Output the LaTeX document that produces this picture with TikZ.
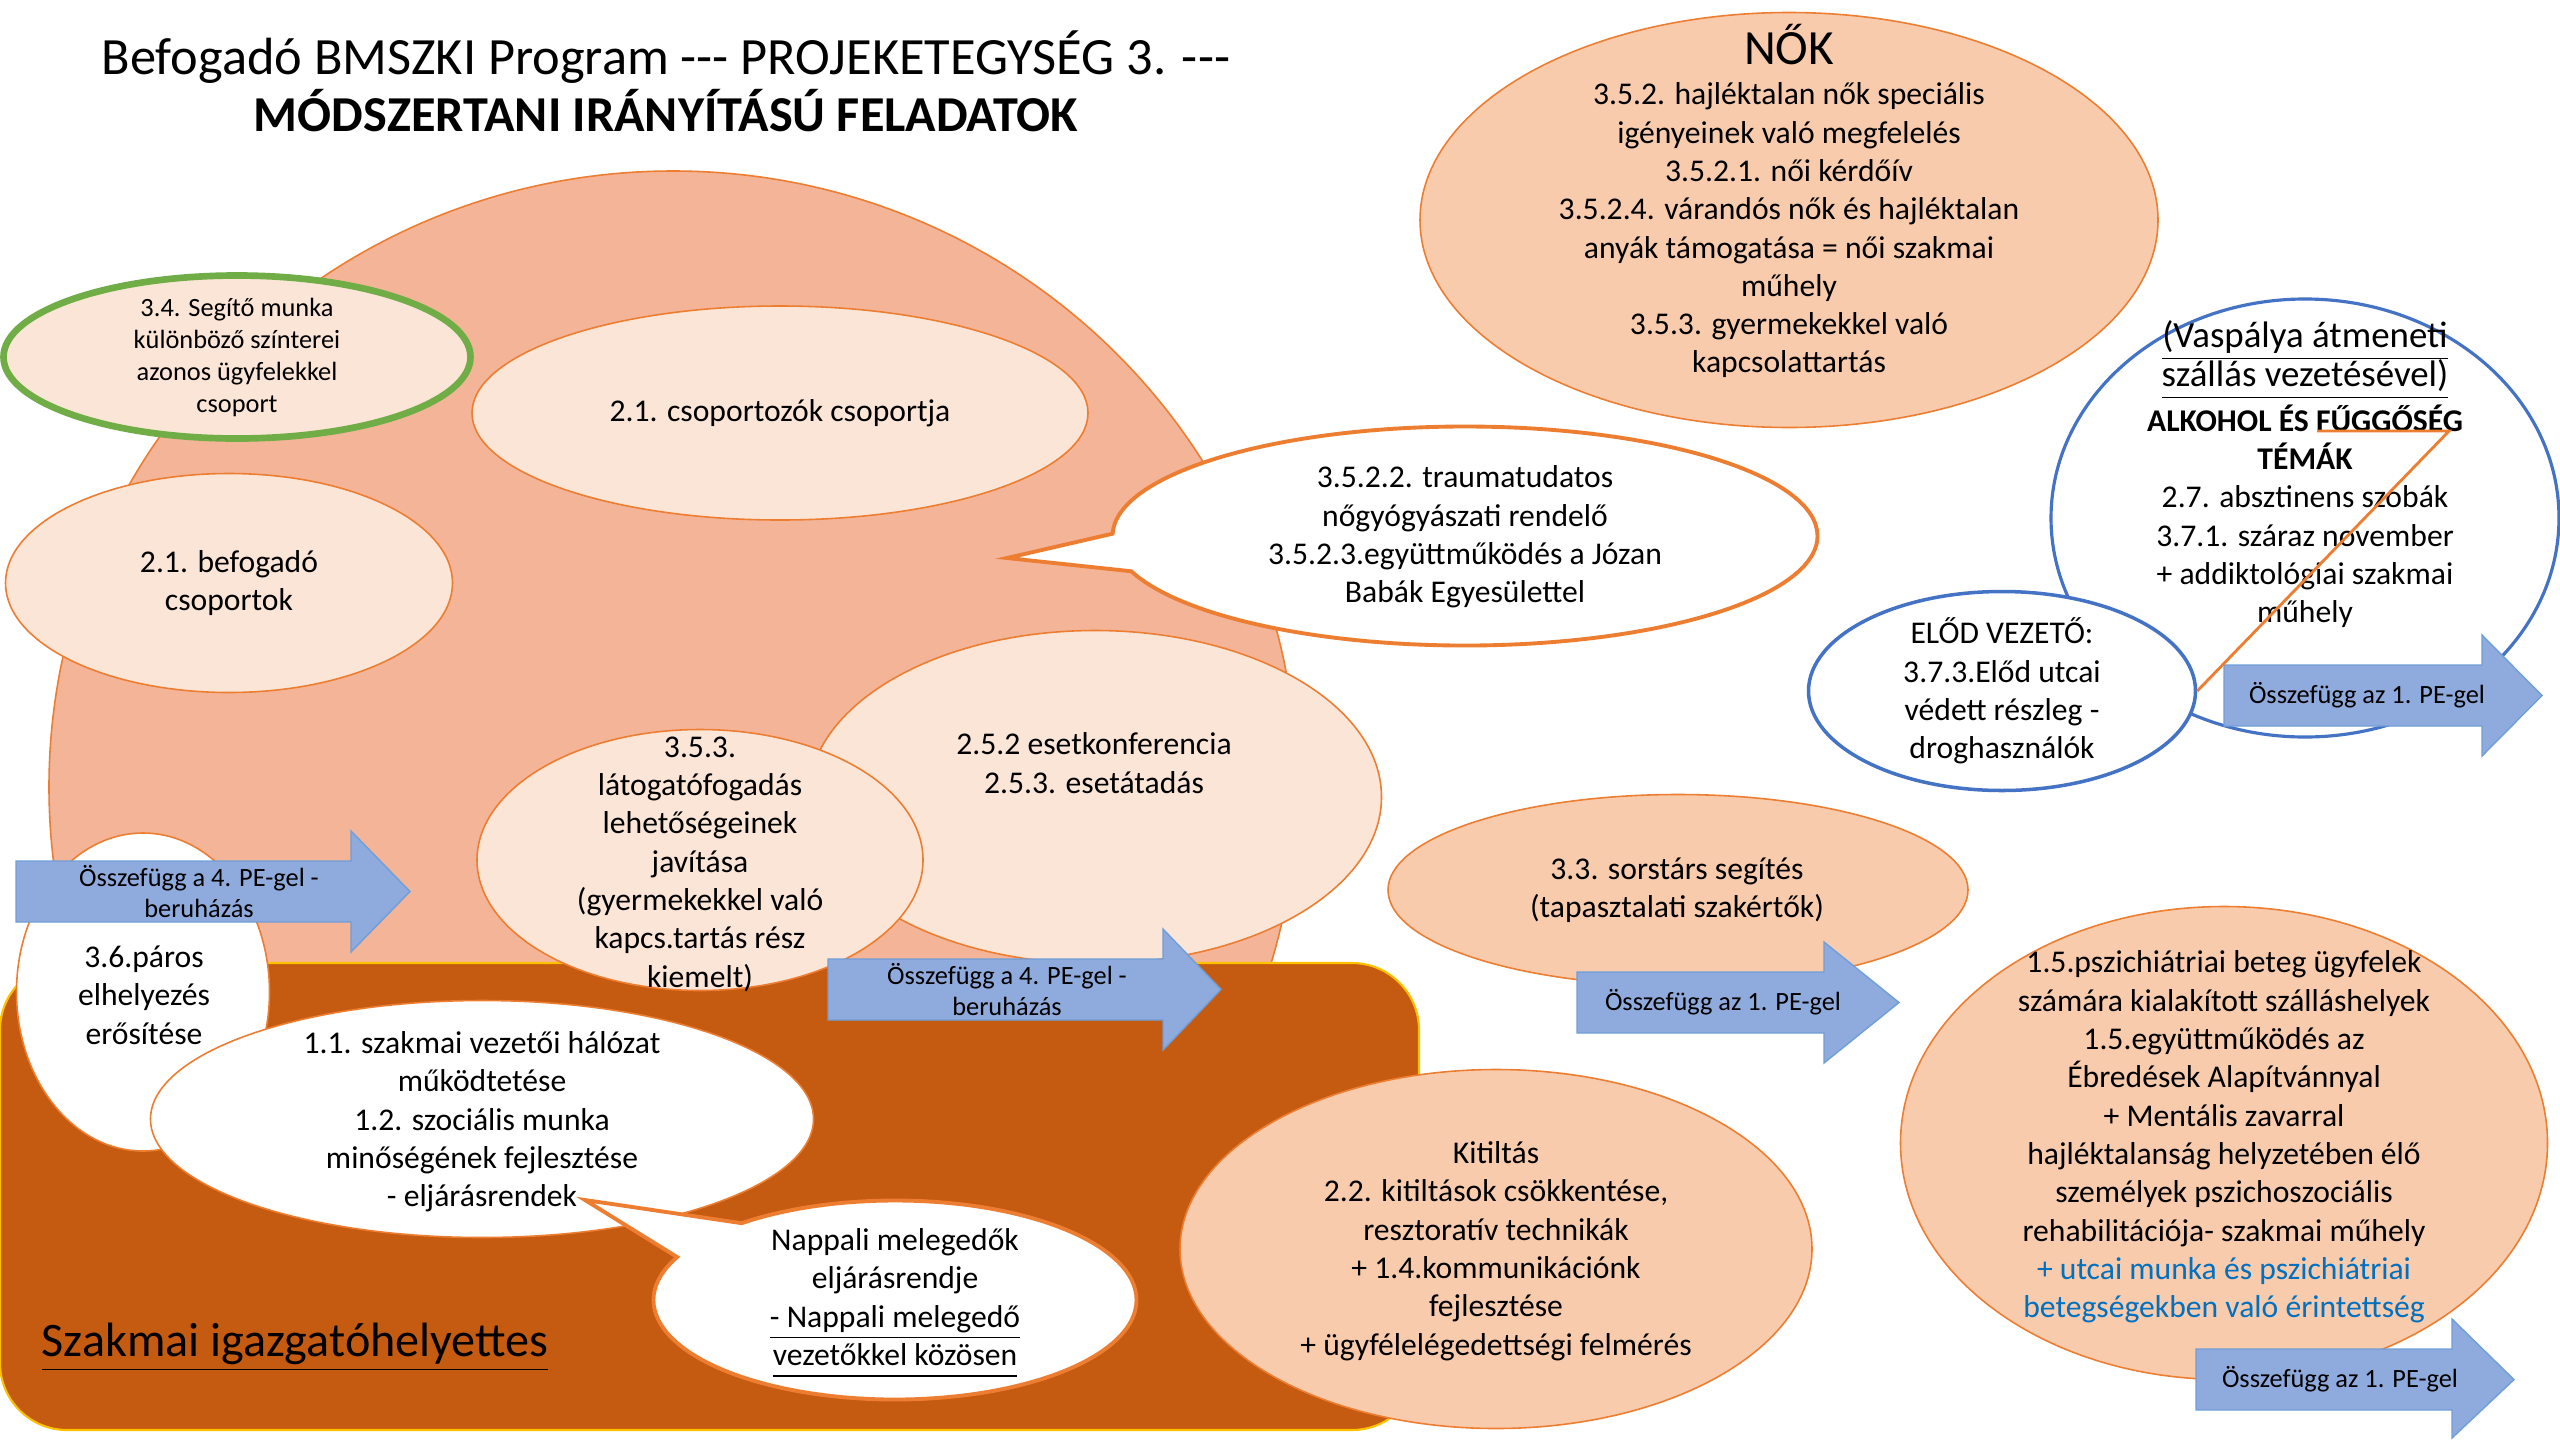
\documentclass[tikz,border=0pt]{standalone}
\usepackage{fontspec}
\setmainfont{Carlito}
\usetikzlibrary{shapes.geometric,shapes.callouts}

\definecolor{salmonbg}{HTML}{F4B498}
\definecolor{peachpale}{HTML}{FBE5D6}
\definecolor{peachmid}{HTML}{F8CBAD}
\definecolor{brownbox}{HTML}{C55A11}
\definecolor{orline}{HTML}{ED7D31}
\definecolor{greenline}{HTML}{70AD47}
\definecolor{blueline}{HTML}{4472C4}
\definecolor{arrowfill}{HTML}{8FAADC}
\definecolor{arrowline}{HTML}{6F9FD8}
\definecolor{yellowline}{HTML}{FFC000}
\definecolor{bluetext}{HTML}{0070C0}

\newcommand{\ultext}[1]{\raisebox{0pt}[\height][0pt]{\underline{\vphantom{g}#1}}}

\begin{document}
\begin{tikzpicture}%
        [bubble/.style={ellipse, draw=orline, line width=0.45pt, inner sep=0pt},
        palebub/.style={bubble, fill=peachpale},
        peachbub/.style={bubble, fill=peachmid},
        whitebub/.style={bubble, fill=white},
        bluebub/.style={bubble, fill=white, draw=blueline, line width=0.9pt},
        speech/.style={ellipse callout, draw=orline, line width=1.1pt, fill=white, inner sep=0pt},
        pearrow/.style={fill=arrowfill, draw=arrowline, line width=0.4pt},
        bodytxt/.style={align=center, inner sep=0pt, font=\fontsize{9}{10.9}\selectfont},
        smalltxt/.style={align=center, inner sep=0pt, font=\fontsize{7.5}{9.1}\selectfont},
        arrowtxt/.style={align=center, inner sep=0pt, font=\fontsize{7.5}{8.8}\selectfont}]
    %
    \useasboundingbox (0,0) rectangle (25.6,-14.4);
    %
    %% Title
    \node[align=center, inner sep=0pt, font=\fontsize{14.9}{16.2}\selectfont] (title) at (6.66,-0.81)
        {Befogadó BMSZKI Program -{}-{}- PROJEKETEGYSÉG 3. -{}-{}-\\
         \fontsize{14.3}{16.2}\selectfont\bfseries MÓDSZERTANI IRÁNYÍTÁSÚ FELADATOK};
    %
    %% Drawing the background shapes
    \draw[fill=salmonbg, draw=orline, line width=0.45pt] (6.73,-7.87) ellipse [x radius=6.24, y radius=6.16];
    \draw[fill=brownbox, draw=yellowline, line width=0.6pt, rounded corners=0.67cm] (0,-9.63) rectangle (14.19,-14.30);
    %
    %% Groups inside the big shape
    \node[palebub, draw=greenline, line width=1.9pt, minimum width=4.67cm, minimum height=1.63cm] (seg34) at (2.37,-3.57) {};
    \node[smalltxt] (seg34text) at (seg34.center) {3.4. Segítő munka\\különböző színterei\\azonos ügyfelekkel\\csoport};
    \node[palebub, minimum width=6.16cm, minimum height=2.14cm] (csop21) at (7.80,-4.13) {};
    \node[bodytxt] (csop21text) at (csop21.center) {2.1. csoportozók csoportja};
    \node[palebub, minimum width=4.47cm, minimum height=2.19cm] (bef21) at (2.29,-5.83) {};
    \node[bodytxt] (bef21text) at (2.29,-5.83) {2.1. befogadó\\csoportok};
    %
    \coordinate (traumatip) at (10.07,-5.58);
    \node[speech, callout absolute pointer={(traumatip)}, callout pointer arc=20,
          minimum width=7.05cm, minimum height=2.19cm] (trauma) at (14.65,-5.36) {};
    \node[bodytxt] (traumatext) at (14.65,-5.37) {3.5.2.2. traumatudatos\\nőgyógyászati rendelő\\3.5.2.3.együttműködés a Józan\\Babák Egyesülettel};
    %
    \node[palebub, minimum width=5.73cm, minimum height=3.33cm] (eset) at (10.95,-7.97) {};
    \node[bodytxt] (esettext) at (10.94,-7.63) {2.5.2 esetkonferencia\\2.5.3. esetátadás};
    \node[palebub, minimum width=4.46cm, minimum height=2.61cm] (latog) at (7.00,-8.60) {};
    \node[bodytxt] (latogtext) at (7.00,-8.64) {3.5.3.\\látogatófogadás\\lehetőségeinek\\javítása\\(gyermekekkel való\\kapcs.tartás rész\\kiemelt)};
    %
    \node[whitebub, minimum width=2.53cm, minimum height=3.18cm] (paros) at (1.43,-9.92) {};
    \node[bodytxt] (parostext) at (1.44,-9.95) {3.6.páros\\elhelyezés\\erősítése};
    %% Arrow: 4. PE (left)
    \draw[pearrow] (0.16,-8.61) -- (3.51,-8.61) -- (3.51,-8.31) -- (4.10,-8.915) -- (3.51,-9.52) -- (3.51,-9.22) -- (0.16,-9.22) -- cycle;
    \node[arrowtxt] (pe4left) at (1.99,-8.915) {Összefügg a 4. PE-gel -\\beruházás};
    %
    %% Szakmai igazgatóhelyettes box
    \node[whitebub, minimum width=6.63cm, minimum height=2.37cm] (vezet) at (4.82,-11.19) {};
    \node[bodytxt] (vezettext) at (4.82,-11.22) {1.1. szakmai vezetői hálózat\\működtetése\\1.2. szociális munka\\minőségének fejlesztése\\- eljárásrendek};
    \coordinate (nappalitip) at (5.85,-12.00);
    \node[speech, callout absolute pointer={(nappalitip)}, callout pointer arc=25,
          minimum width=4.83cm, minimum height=1.99cm] (napp) at (8.95,-13.00) {};
    \node[bodytxt] (napptext) at (8.95,-12.97) {Nappali melegedők\\eljárásrendje\\\ultext{- Nappali melegedő}\\\ultext{vezetőkkel közösen}};
    %% Arrow: 4. PE (middle)
    \draw[pearrow] (8.28,-9.59) -- (11.63,-9.59) -- (11.63,-9.29) -- (12.21,-9.894) -- (11.63,-10.50) -- (11.63,-10.20) -- (8.28,-10.20) -- cycle;
    \node[arrowtxt] (pe4mid) at (10.07,-9.894) {Összefügg a 4. PE-gel -\\beruházás};
    \node[anchor=base west, inner sep=0pt, font=\fontsize{13.7}{16}\selectfont] (szakmai) at (0.41,-13.56) {\ultext{Szakmai igazgatóhelyettes}};
    %
    %% Right hand side
    \node[peachbub, minimum width=7.38cm, minimum height=4.15cm] (nok) at (17.89,-2.20) {};
    \node[bodytxt] (noktext) at (17.89,-2.01)
        {\fontsize{14}{14}\selectfont NŐK\\[0.65pt]
         3.5.2. hajléktalan nők speciális\\igényeinek való megfelelés\\3.5.2.1. női kérdőív\\3.5.2.4. várandós nők és hajléktalan\\anyák támogatása = női szakmai\\műhely\\3.5.3. gyermekekkel való\\kapcsolattartás};
    %
    \node[peachbub, minimum width=5.80cm, minimum height=1.91cm] (sors) at (16.78,-8.90) {};
    \node[bodytxt] (sorstext) at (16.77,-8.90) {3.3. sorstárs segítés\\(tapasztalati szakértők)};
    \draw[pearrow] (15.77,-9.72) -- (18.24,-9.72) -- (18.24,-9.42) -- (18.99,-10.025) -- (18.24,-10.63) -- (18.24,-10.33) -- (15.77,-10.33) -- cycle;
    \node[arrowtxt] (pe1sors) at (17.23,-10.025) {Összefügg az 1. PE-gel};
    %
    \node[peachbub, minimum width=6.32cm, minimum height=3.59cm] (kitilt) at (14.96,-12.49) {};
    \node[bodytxt] (kitilttext) at (14.96,-12.51) {Kitiltás\\2.2. kitiltások csökkentése,\\resztoratív technikák\\+ 1.4.kommunikációnk\\fejlesztése\\+ ügyfélelégedettségi felmérés};
    %
    \node[peachbub, minimum width=6.47cm, minimum height=4.73cm] (pszich) at (22.24,-11.43) {};
    \node[bodytxt] (pszichtext) at (22.24,-11.37) {1.5.pszichiátriai beteg ügyfelek\\számára kialakított szálláshelyek\\1.5.együttműködés az\\Ébredések Alapítvánnyal\\+ Mentális zavarral\\hajléktalanság helyzetében élő\\személyek pszichoszociális\\rehabilitációja- szakmai műhely\\\textcolor{bluetext}{+ utcai munka és pszichiátriai}\\\textcolor{bluetext}{betegségekben való érintettség}};
    \draw[pearrow] (21.96,-13.49) -- (24.52,-13.49) -- (24.52,-13.19) -- (25.14,-13.796) -- (24.52,-14.38) -- (24.52,-14.10) -- (21.96,-14.10) -- cycle;
    \node[arrowtxt] (pe1pszich) at (23.40,-13.796) {Összefügg az 1. PE-gel};
    %
    \node[bluebub, minimum width=5.08cm, minimum height=4.38cm] (vasp) at (23.05,-5.18) {};
    \node[bodytxt] (vasptext) at (23.05,-4.74)
        {\fontsize{10.5}{12.4}\selectfont\ultext{(Vaspálya átmeneti}\\[0.2pt]
         \fontsize{10.5}{12.4}\selectfont\ultext{szállás vezetésével)}\\[2pt]
         \textbf{ALKOHOL ÉS FŰGGŐSÉG}\\\textbf{TÉMÁK}\\2.7. absztinens szobák\\3.7.1. száraz november\\+ addiktológiai szakmai\\műhely};
    \node[bluebub, line width=1pt, minimum width=3.87cm, minimum height=1.99cm] (elod) at (20.02,-6.91) {};
    \node[bodytxt] (elodtext) at (elod.center) {ELŐD VEZETŐ:\\3.7.3.Előd utcai\\védett részleg -\\droghasználók};
    \draw[pearrow] (22.24,-6.65) -- (24.82,-6.65) -- (24.82,-6.35) -- (25.42,-6.955) -- (24.82,-7.56) -- (24.82,-7.26) -- (22.24,-7.26) -- cycle;
    \node[arrowtxt] (pe1vasp) at (23.67,-6.955) {Összefügg az 1. PE-gel};
    %% Link from Előd to the addiction topics
    \coordinate (fuggend) at (24.49,-4.31);
    \coordinate (fuggstart) at (23.17,-4.31);
    \draw[orline, line width=0.8pt] (elod.east) -- (fuggend) -- (fuggstart);
    %%
\end{tikzpicture}
\end{document}
